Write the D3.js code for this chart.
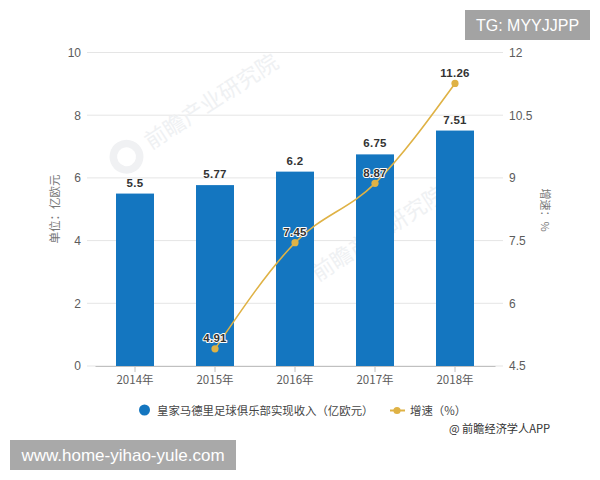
<!DOCTYPE html>
<html><head><meta charset="utf-8">
<script src="https://cdnjs.cloudflare.com/ajax/libs/d3/7.8.5/d3.min.js"></script>
<style>
html,body{margin:0;padding:0;background:#fff}
svg{display:block}
text{font-family:"Noto Sans CJK SC","Liberation Sans",sans-serif}
</style></head><body>
<svg id="c" width="600" height="480"></svg>
<script>
const years = ["2014年","2015年","2016年","2017年","2018年"];
const revenue = [5.5,5.77,6.2,6.75,7.51];
const growth = [null,4.91,7.45,8.87,11.26];
const leftTicks = [0,2,4,6,8,10];
const rightTicks = [4.5,6,7.5,9,10.5,12];
const seriesNames = ["皇家马德里足球俱乐部实现收入（亿欧元）","增速（%）"];
const leftTitle = "单位：亿欧元";
const rightTitle = "增速：%";
const credit = "@ 前瞻经济学人APP";
const topBadge = "TG: MYYJJPP";
const bottomBadge = "www.home-yihao-yule.com";
const watermark = "前瞻产业研究院";

const blue="#1476c0", gold="#dfb245", grid="#e5e5e5", txt="#5c5c5c";
const svg=d3.select("#c");
const x=d3.scaleBand().domain(years).range([95,495]);
const yL=d3.scaleLinear().domain([0,10]).range([366,52.5]);
const yR=d3.scaleLinear().domain([4.5,12]).range([366,52.5]);
const barW=38;

// gridlines
svg.append("g").selectAll("line").data(leftTicks).join("line")
  .attr("x1",87).attr("x2",503)
  .attr("y1",d=>yL(d)).attr("y2",d=>yL(d))
  .attr("stroke",grid).attr("stroke-width",1);

// watermarks
function mark(cx,cy,size){
  const g=svg.append("g").attr("transform",`translate(${cx},${cy}) rotate(-33)`);
  g.append("text").attr("x",0).attr("y",0).attr("font-size",size)
    .attr("fill","#eff1f3").text(watermark);
  g.append("circle").attr("cx",-size*1.1).attr("cy",-size*0.35).attr("r",size*0.6)
    .attr("fill","none").attr("stroke","#f0f1f3").attr("stroke-width",size*0.34);
}
mark(151,150,22);
mark(318,282,22);

// bars
svg.append("g").selectAll("rect").data(revenue).join("rect")
  .attr("x",(d,i)=>x(years[i])+x.bandwidth()/2-barW/2)
  .attr("y",d=>yL(d)).attr("width",barW)
  .attr("height",d=>yL(0)-yL(d)).attr("fill",blue);

// x axis
const xa=svg.append("g").attr("transform","translate(0,366)")
  .call(d3.axisBottom(x).tickSize(6).tickSizeOuter(0).tickPadding(4));
xa.select(".domain").attr("stroke","#c0c0c0").attr("stroke-width",1.2);
xa.selectAll(".tick line").attr("stroke","#c0c0c0");
xa.selectAll("text").attr("font-size",11.5).attr("fill",txt)
  .style("font-family",'"Noto Sans CJK SC",sans-serif');

// y axes
const la=svg.append("g").attr("transform","translate(87,0)")
  .call(d3.axisLeft(yL).tickValues(leftTicks).tickSize(0).tickPadding(6).tickFormat(d3.format("d")));
la.select(".domain").remove();
la.selectAll("text").attr("font-size",12).attr("fill",txt).style("font-family",'"Liberation Sans",sans-serif');
const ra=svg.append("g").attr("transform","translate(503,0)")
  .call(d3.axisRight(yR).tickValues(rightTicks).tickSize(0).tickPadding(6).tickFormat(d=>String(d)));
ra.select(".domain").remove();
ra.selectAll("text").attr("font-size",12).attr("fill",txt).style("font-family",'"Liberation Sans",sans-serif');

// axis titles
svg.append("text").attr("transform","translate(54,209) rotate(-90)")
  .attr("text-anchor","middle").attr("dominant-baseline","central").attr("font-size",11.5).attr("fill","#777").text(leftTitle);
svg.append("text").attr("transform","translate(546,210) rotate(90)")
  .attr("text-anchor","middle").attr("dominant-baseline","central").attr("font-size",11).attr("fill","#777").text(rightTitle);

// line
const pts=growth.map((v,i)=>({v,y:years[i]})).filter(d=>d.v!==null);
const cx=d=>x(d.y)+x.bandwidth()/2;
const line=d3.line().x(cx).y(d=>yR(d.v)).curve(d3.curveMonotoneX);
svg.append("path").attr("d",line(pts)).attr("fill","none")
  .attr("stroke",gold).attr("stroke-width",1.6);
svg.append("g").selectAll("circle").data(pts).join("circle")
  .attr("cx",cx).attr("cy",d=>yR(d.v)).attr("r",3.6).attr("fill",gold);

// bar labels
svg.append("g").selectAll("text").data(revenue).join("text")
  .attr("x",(d,i)=>x(years[i])+x.bandwidth()/2).attr("y",d=>yL(d)-7)
  .attr("text-anchor","middle").attr("font-size",11.5).attr("font-weight",700)
  .attr("fill","#333").attr("letter-spacing",0.3).style("font-family",'"Liberation Sans",sans-serif')
  .text(d=>d);

// line labels
svg.append("g").selectAll("text").data(pts).join("text")
  .attr("x",cx).attr("y",d=>yR(d.v)-6.5)
  .attr("text-anchor","middle").attr("font-size",11.5).attr("font-weight",700)
  .attr("fill","#333").attr("stroke","#fff").attr("stroke-width",2)
  .attr("letter-spacing",0.3)
  .attr("paint-order","stroke").attr("stroke-linejoin","round")
  .style("font-family",'"Liberation Sans",sans-serif')
  .text(d=>d.v);

// legend
svg.append("circle").attr("cx",144.5).attr("cy",410).attr("r",5.5).attr("fill",blue);
svg.append("text").attr("x",157).attr("y",414.5).attr("font-size",11.4).attr("fill","#444").text(seriesNames[0]);
svg.append("line").attr("x1",390).attr("x2",405).attr("y1",410.5).attr("y2",410.5).attr("stroke",gold).attr("stroke-width",2);
svg.append("circle").attr("cx",397).attr("cy",410.5).attr("r",3.6).attr("fill",gold);
svg.append("text").attr("x",410).attr("y",414.5).attr("font-size",11.4).attr("fill","#444").text(seriesNames[1]);
svg.append("text").attr("x",449).attr("y",433).attr("font-size",11.2).attr("fill","#333").text(credit);

// overlay badges
svg.append("rect").attr("x",465).attr("y",10).attr("width",125).attr("height",30).attr("fill","#a3a3a3");
svg.append("text").attr("x",527.5).attr("y",31).attr("text-anchor","middle").attr("font-size",16)
  .attr("fill","#fff").style("font-family",'"Liberation Sans",sans-serif').text(topBadge);
svg.append("rect").attr("x",10).attr("y",440).attr("width",226).attr("height",30).attr("fill","#a9a9a9");
svg.append("text").attr("x",123).attr("y",461).attr("text-anchor","middle").attr("font-size",17)
  .attr("fill","#fff").style("font-family",'"Liberation Sans",sans-serif').text(bottomBadge);
</script></body></html>
